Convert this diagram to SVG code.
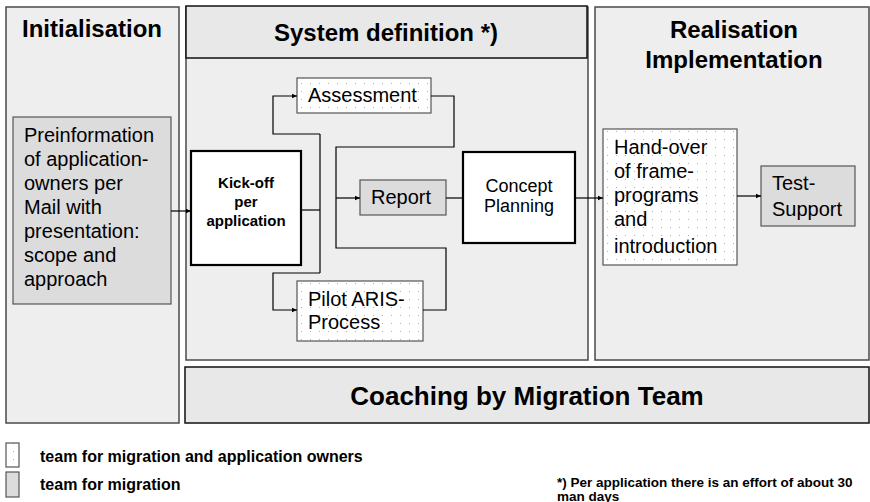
<svg xmlns="http://www.w3.org/2000/svg" width="870" height="502" viewBox="0 0 870 502">
<defs>
<pattern id="dots" x="0" y="0" width="9" height="8" patternUnits="userSpaceOnUse">
<rect width="9" height="8" fill="#ffffff"/>
<rect x="4" y="3" width="1" height="1" fill="#b0b0b0"/>
</pattern>
<marker id="arr" markerWidth="6" markerHeight="6" refX="5" refY="3" orient="auto" markerUnits="userSpaceOnUse">
<path d="M0,0.8 L5,3 L0,5.2 z" fill="#000"/>
</marker>
</defs>
<style>
.panel{fill:#eeeeee;stroke:#4a4a4a;stroke-width:1.5}
.hdr{fill:#e8e8e8;stroke:#111;stroke-width:1.5}
.gray{fill:#dcdcdc;stroke:#555;stroke-width:1.2}
.white{fill:#ffffff;stroke:#000;stroke-width:2.2}
.dot{fill:url(#dots);stroke:#555;stroke-width:1.2}
.t{font-family:"Liberation Sans",Arial,sans-serif;fill:#000}
.title{font-size:24px;font-weight:bold}
.n{font-size:20px}
.leg{font-size:16px;font-weight:bold}
.foot{font-size:13.5px;font-weight:bold}
.conn path{fill:none;stroke:#000;stroke-width:1.2}
</style>
<g id="panel-initialisation">
<rect class="panel" x="6" y="7" width="173" height="416"/>
<text class="t title" x="92" y="37" text-anchor="middle">Initialisation</text>
</g>
<g id="panel-system-definition">
<rect class="panel" x="186" y="7" width="402" height="353"/>
<rect class="hdr" x="186" y="6" width="401" height="52"/>
<text class="t title" x="386" y="41" text-anchor="middle">System definition *)</text>
</g>
<g id="panel-realisation">
<rect class="panel" x="595" y="7" width="274" height="353"/>
<text class="t title" x="734" y="38" text-anchor="middle">Realisation</text>
<text class="t title" x="734" y="68" text-anchor="middle">Implementation</text>
</g>
<g id="panel-coaching">
<rect class="hdr" x="185" y="367" width="684" height="56"/>
<text class="t" font-size="26" font-weight="bold" x="527" y="405" text-anchor="middle">Coaching by Migration Team</text>
</g>
<g id="node-preinformation">
<rect class="gray" x="13" y="117" width="158" height="187"/>
<text class="t n" x="24" y="142">Preinformation</text>
<text class="t n" x="24" y="166">of application-</text>
<text class="t n" x="24" y="190">owners per</text>
<text class="t n" x="24" y="214">Mail with</text>
<text class="t n" x="24" y="238">presentation:</text>
<text class="t n" x="24" y="262">scope and</text>
<text class="t n" x="24" y="286">approach</text>
</g>
<g id="node-kickoff">
<rect class="white" x="191" y="151" width="110" height="114"/>
<text class="t" font-size="15" font-weight="bold" text-anchor="middle" x="246" y="188">Kick-off</text>
<text class="t" font-size="15" font-weight="bold" text-anchor="middle" x="246" y="207">per</text>
<text class="t" font-size="15" font-weight="bold" text-anchor="middle" x="246" y="226">application</text>
</g>
<g id="node-assessment">
<rect class="dot" x="297" y="78" width="134" height="35"/>
<text class="t n" x="308" y="102">Assessment</text>
</g>
<g id="node-report">
<rect class="gray" x="360" y="180" width="86" height="35"/>
<text class="t n" x="371" y="204">Report</text>
</g>
<g id="node-pilot">
<rect class="dot" x="297" y="281" width="126" height="60"/>
<text class="t n" x="308" y="306">Pilot ARIS-</text>
<text class="t n" x="308" y="329">Process</text>
</g>
<g id="node-concept">
<rect class="white" x="463" y="152" width="112" height="91"/>
<text class="t" font-size="18" text-anchor="middle" x="519" y="192">Concept</text>
<text class="t" font-size="18" text-anchor="middle" x="519" y="212">Planning</text>
</g>
<g id="node-handover">
<rect class="dot" x="603" y="129" width="134" height="136"/>
<text class="t n" x="614" y="154">Hand-over</text>
<text class="t n" x="614" y="178">of frame-</text>
<text class="t n" x="614" y="202">programs</text>
<text class="t n" x="614" y="226">and</text>
<text class="t n" x="614" y="253">introduction</text>
</g>
<g id="node-test">
<rect class="gray" x="761" y="166" width="94" height="60"/>
<text class="t n" x="772" y="190">Test-</text>
<text class="t n" x="772" y="216">Support</text>
</g>
<g id="connectors" class="conn">
<path d="M171,211 H191" marker-end="url(#arr)"/>
<path d="M301,210 H320"/>
<path d="M320,134 V273"/>
<path d="M320,134 H273 V96 H297" marker-end="url(#arr)"/>
<path d="M320,273 H273 V310 H297" marker-end="url(#arr)"/>
<path d="M431,96 H454 V147 H336 V248 H446 V310 H423"/>
<path d="M336,198 H360" marker-end="url(#arr)"/>
<path d="M446,198 H463"/>
<path d="M575,198 H603" marker-end="url(#arr)"/>
<path d="M737,196 H761" marker-end="url(#arr)"/>
</g>
<g id="legend">
<rect class="dot" x="6" y="443" width="13" height="24"/>
<text class="t leg" x="40" y="462">team for migration and application owners</text>
<rect class="gray" x="6" y="472" width="13" height="25"/>
<text class="t leg" x="40" y="490">team for migration</text>
<text class="t foot" x="557" y="487">*) Per application there is an effort of about 30</text>
<text class="t foot" x="557" y="501">man days</text>
</g>
</svg>
